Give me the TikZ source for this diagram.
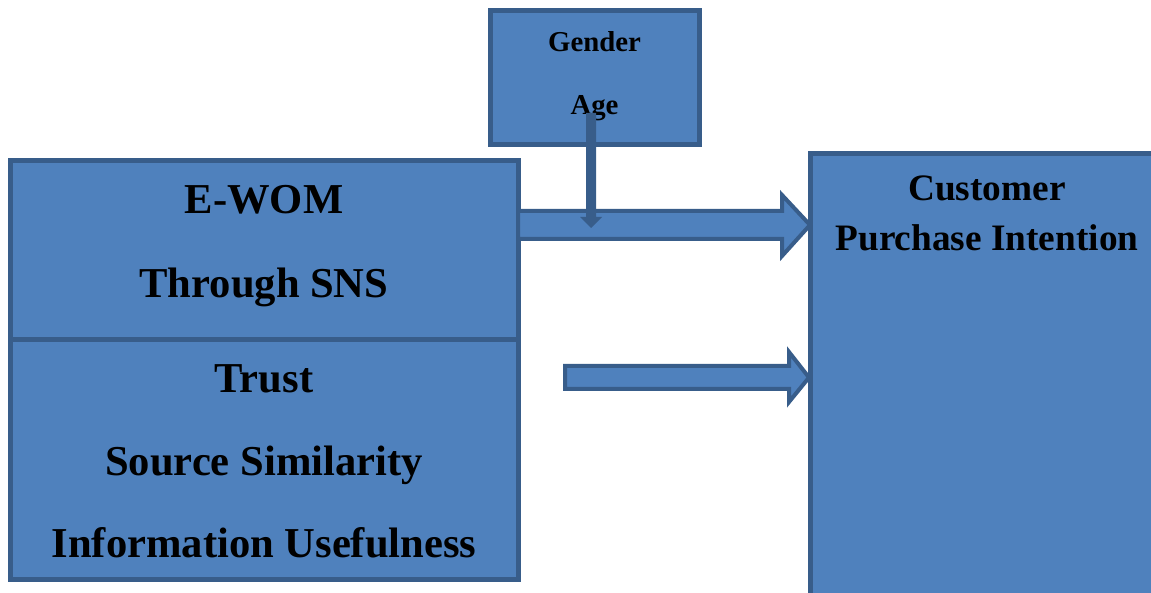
\documentclass[tikz,border=0pt]{standalone}
\usepackage{fontspec}
\setmainfont{Liberation Serif}
\usetikzlibrary{calc}
\definecolor{boxfill}{HTML}{4F81BD}
\definecolor{boxline}{HTML}{385D8A}
\begin{document}
\begin{tikzpicture}[x=1pt,y=-1pt,
  box/.style={draw=boxline, fill=boxfill, line width=5pt, inner sep=0pt, outer sep=0pt},
  blockarrow/.style={draw=boxline, fill=boxfill, line width=4pt, line join=miter},
  bigtext/.style={font=\fontsize{42.6}{42.6}\selectfont\bfseries, anchor=base, inner sep=0pt},
  midtext/.style={font=\fontsize{37.3}{37.3}\selectfont\bfseries, anchor=base, inner sep=0pt},
  smalltext/.style={font=\fontsize{28.8}{28.8}\selectfont\bfseries, anchor=base, inner sep=0pt}]
\useasboundingbox (0,0) rectangle (1151,593);
\begin{scope}
  \clip (0,0) rectangle (1151,593);
  % moderator box
  \node[box, minimum width=209.5pt, minimum height=134pt] (gender) at (594.75,77.5) {};
  \node[smalltext] (tgender) at (594.5,52) {Gender};
  \node[smalltext] (tage) at (594.5,115) {Age};
  % independent variable boxes
  \node[box, minimum width=508pt, minimum height=179pt] (ewom) at (264,250) {};
  \node[box, minimum width=508pt, minimum height=240pt] (factors) at (264,459.5) {};
  \node[bigtext] (tewom) at (264,214) {E-WOM};
  \node[bigtext] (tsns) at (264,298) {Through SNS};
  \node[bigtext] (ttrust) at (264,392) {Trust};
  \node[bigtext] (tsim) at (264,475) {Source Similarity};
  \node[bigtext] (tuse) at (264,557) {Information Usefulness};
  % dependent variable box
  \node[box, minimum width=350pt, minimum height=460pt, anchor=north west] (cpi) at (810.5,154) {};
  \node[midtext] (tcust) at (987,201) {Customer};
  \node[midtext] (tpi) at (987,251) {Purchase Intention};
  % block arrows into the dependent variable
  \draw[blockarrow] (518,211) -- (782,211) -- (782,195) -- (810,225)
    -- (782,256) -- (782,239) -- (518,239) -- cycle;
  \draw[blockarrow] (565,366) -- (789,366) -- (789,352) -- (809,377.5)
    -- (789,402) -- (789,389) -- (565,389) -- cycle;
  % moderating arrow
  \fill[boxline] (586,113) -- (596,113) -- (596,217) -- (602,217) -- (591,228)
    -- (580,217) -- (586,217) -- cycle;
\end{scope}
\end{tikzpicture}
\end{document}
